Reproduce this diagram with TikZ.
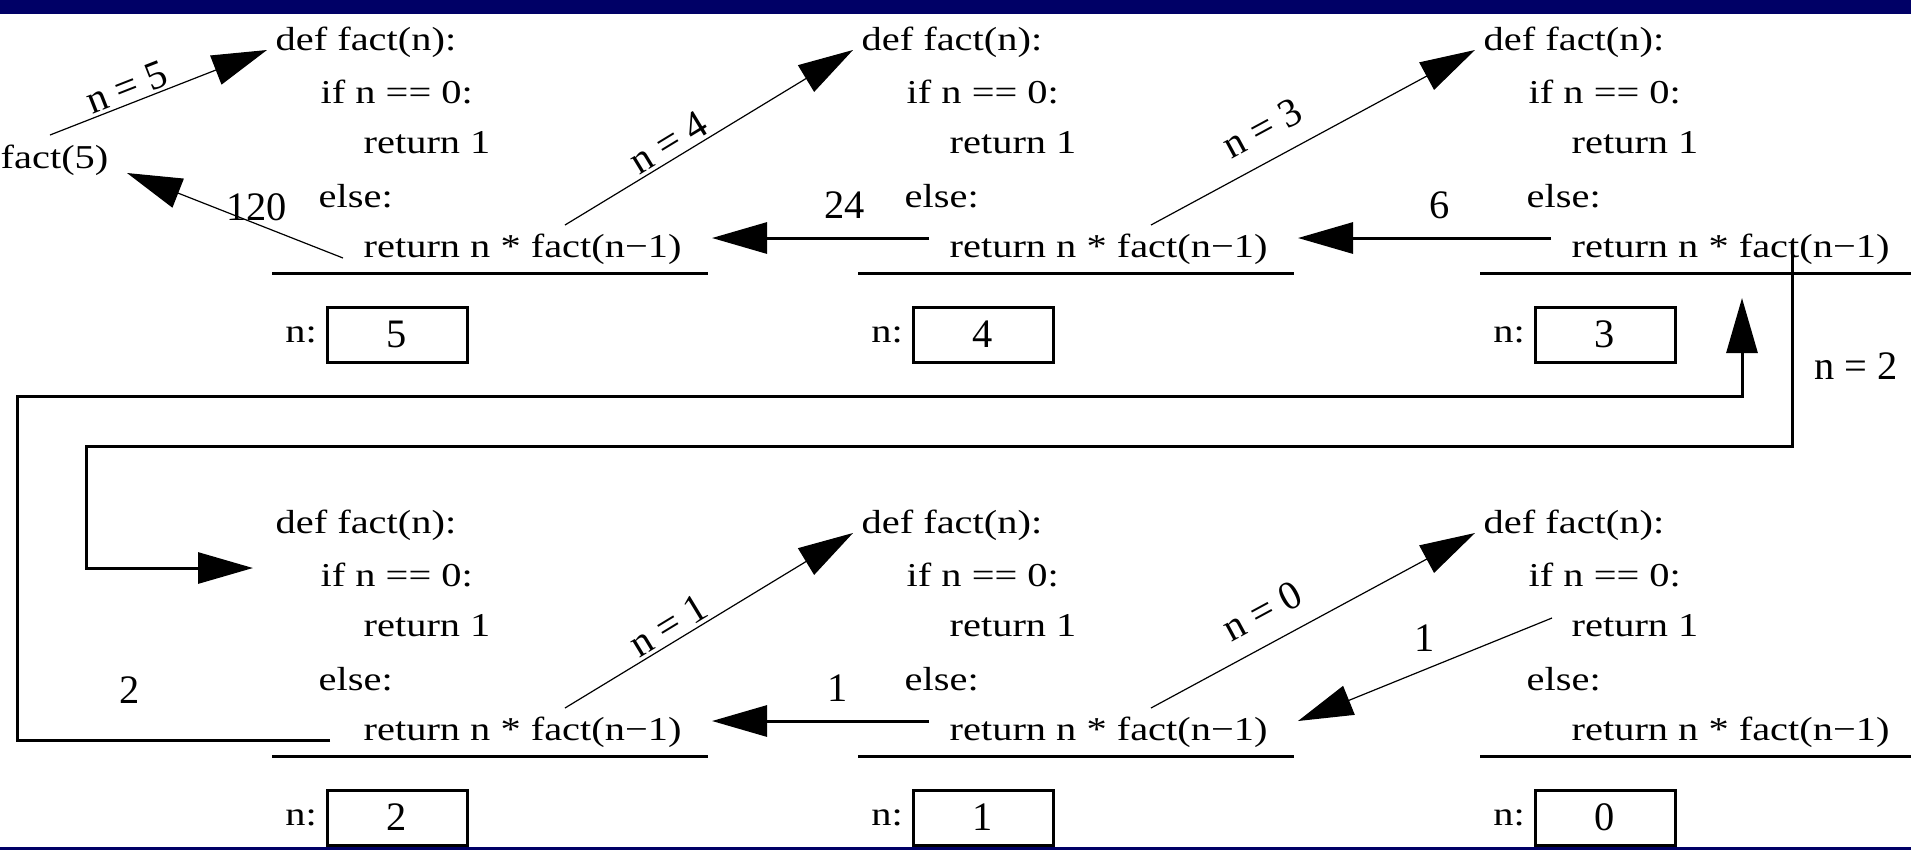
\documentclass[tikz,border=0pt]{standalone}
\usepackage{fontspec}
\setmainfont{Liberation Serif}
\newfontfamily\codefont[FakeStretch=1.21]{Liberation Serif}
\usetikzlibrary{arrows.meta,positioning}
\definecolor{barnavy}{RGB}{0,0,102}

\begin{document}
\begin{tikzpicture}[x=0.1mm, y=-0.1mm,
	code/.style={anchor=base west, inner xsep=0.8mm, inner ysep=0pt, font=\codefont\fontsize{9.5}{11}\selectfont},
	lbl/.style={inner sep=0.3mm, font=\fontsize{11.5}{13}\selectfont},
	cell/.style={draw, line width=0.3mm, minimum width=14mm, minimum height=5.5mm, inner sep=0pt, font=\fontsize{11.5}{13}\selectfont},
	rule/.style={line width=0.3mm},
	head/.style={-{Triangle[length=5.5mm,width=3.1mm]}},
	slant/.style={head, line width=0.12mm},
	flat/.style={head, line width=0.3mm}]
\useasboundingbox (0,0) rectangle (1911,850);
\fill[barnavy] (0,0) rectangle (1911,14);
\fill[barnavy] (0,847) rectangle (1911,850);
\foreach \v/\x/\y in {5/275/50, 4/861/50, 3/1483/50, 2/275/533, 1/861/533, 0/1483/533} {
	\node[code] (def\v) at (\x-8,\y) {def fact(n):};
	\node[code] (if\v) at (\x+37,\y+53) {if n == 0:};
	\node[code] (one\v) at (\x+80,\y+103) {return 1};
	\node[code] (else\v) at (\x+35,\y+157) {else:};
	\node[code] (rec\v) at (\x+80,\y+207) {return n * fact(n−1)};
	\draw[rule] (\x-3,\y+223) -- ++(436,0);
	\node[cell] (box\v) at (\x+122,\y+284.5) {\v};
	\node[code, left=0pt of box\v] (lab\v) {n:};
	\coordinate (call\v) at (\x+290,\y+175);
	\coordinate (ret\v) at (\x+68,\y+188);
	\coordinate (got\v) at (\x+437,\y+188);
}
\node[code] (fact5) at (-8,168) {fact(5)};
\coordinate (start) at (50,135);
\coordinate (done) at (127,173);
\coordinate (back5) at (343,258);
\coordinate (down3) at (1792,252);
\coordinate (entry2) at (253,568);
\coordinate (back2) at (330,740);
\coordinate (up3) at (1742,298);
\coordinate (base0) at (1552,618);
\path[slant] (start) edge node[lbl, sloped, above, pos=.38] {n = 5} (def5.base west);
\path[slant] (back5) edge node[lbl, above, pos=.4] {120} (done);
\path[slant] (call5) edge node[lbl, sloped, above, pos=.39] {n = 4} (def4.base west);
\path[flat] (ret4) edge node[lbl, above=1.5mm, pos=.39] {24} (got5);
\path[slant] (call4) edge node[lbl, sloped, above=1.5mm, pos=.39] {n = 3} (def3.base west);
\path[flat] (ret3) edge node[lbl, above=1.5mm, pos=.44] {6} (got4);
\draw[flat] (down3) -- node[lbl, right=1.8mm, pos=.59] {n = 2} ++(0,194) -| ([xshift=-16.7mm]entry2) -- (entry2);
\draw[flat] (back2) -| node[lbl, above=3.2mm, pos=.32] {2} ++(-313,-344) -| (up3);
\path[slant] (call2) edge node[lbl, sloped, above, pos=.39] {n = 1} (def1.base west);
\path[flat] (ret1) edge node[lbl, above=1.5mm, pos=.42] {1} (got2);
\path[slant] (call1) edge node[lbl, sloped, above=1.5mm, pos=.39] {n = 0} (def0.base west);
\path[slant] (base0) edge node[lbl, above=1.4mm, pos=.5] {1} (got1);
\end{tikzpicture}
\end{document}
